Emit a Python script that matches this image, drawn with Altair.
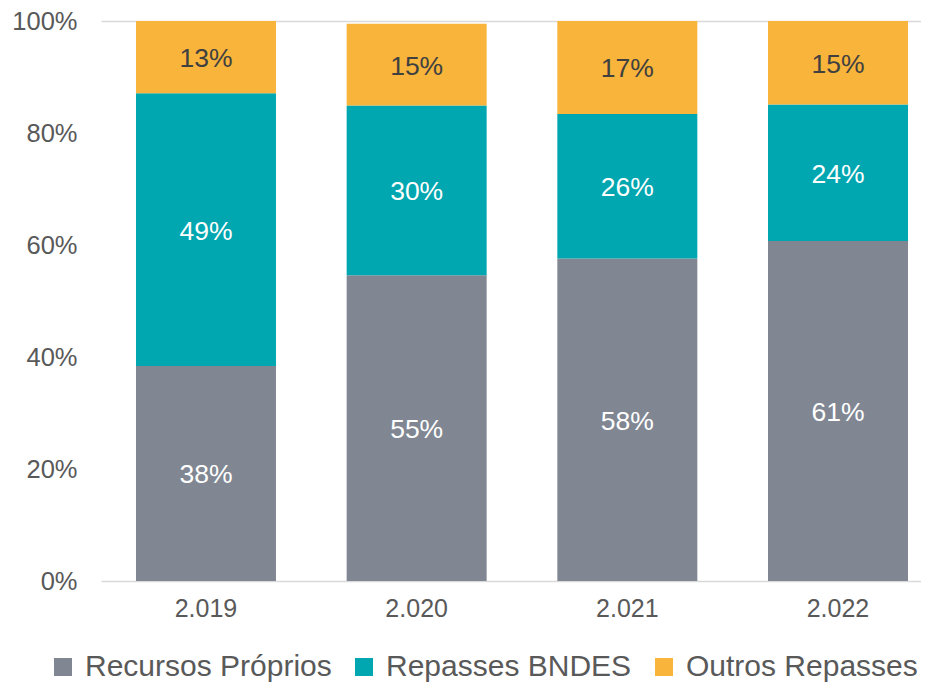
import altair as alt
import pandas as pd

years = ["2.019", "2.020", "2.021", "2.022"]
series = ["Recursos Próprios", "Repasses BNDES", "Outros Repasses"]
recursos = [38.4, 54.6, 57.6, 60.7]
bndes = [48.7, 30.3, 25.8, 24.4]
outros = [12.9, 14.6, 16.6, 14.9]
colors = ["#808793", "#00A6B0", "#F9B43C"]
y_ticks = [0, 20, 40, 60, 80, 100]

rows = []
for k, (s, vals) in enumerate(zip(series, [recursos, bndes, outros])):
    for yr, v in zip(years, vals):
        rows.append({"year": yr, "series": s, "value": v, "order": k})
df = pd.DataFrame(rows)

font = "Liberation Sans"
label_color = "#595959"

base = alt.Chart(df).transform_stack(
    stack="value",
    groupby=["year"],
    as_=["y0", "y1"],
    sort=[alt.SortField("order", order="ascending")],
).transform_calculate(
    mid="(datum.y0 + datum.y1) / 2",
    label="format(datum.value, '.0f') + '%'",
)

x_enc = alt.X(
    "year:N",
    sort=years,
    title=None,
    scale=alt.Scale(paddingInner=0.3355, paddingOuter=0.1139, align=0.729),
    axis=alt.Axis(
        labelFont=font,
        labelFontSize=25,
        labelColor=label_color,
        labelAngle=0,
        labelPadding=15,
        ticks=False,
        domain=False,
    ),
)

bars = base.mark_bar().encode(
    x=x_enc,
    y=alt.Y(
        "y0:Q",
        title=None,
        scale=alt.Scale(domain=[0, 100], nice=False),
        axis=alt.Axis(
            values=y_ticks,
            labelExpr="datum.value + '%'",
            labelFont=font,
            labelFontSize=25.5,
            labelColor=label_color,
            labelPadding=24,
            ticks=False,
            domain=False,
            grid=True,
            gridColor="#D9D9D9",
            gridWidth=1.5,
            gridOpacity={
                "condition": {"test": "datum.value == 0 || datum.value == 100", "value": 1},
                "value": 0,
            },
            minExtent=93,
            maxExtent=93,
        ),
    ),
    y2="y1:Q",
    color=alt.Color(
        "series:N",
        scale=alt.Scale(domain=series, range=colors),
        legend=alt.Legend(
            title=None,
            orient="none",
            legendX=-53,
            legendY=631,
            direction="horizontal",
            symbolType="square",
            symbolSize=324,
            symbolStrokeWidth=0,
            labelFont=font,
            labelFontSize=30,
            labelColor=label_color,
            labelLimit=400,
            labelOffset=7,
            columnPadding=17,
            padding=0,
        ),
    ),
)

text = base.mark_text(font=font, fontSize=26.5, dy=2).encode(
    x=alt.X("year:N", sort=years),
    y=alt.Y("mid:Q"),
    text=alt.Text("label:N"),
    color=alt.condition(
        alt.datum.series == "Outros Repasses", alt.value("#404040"), alt.value("#FFFFFF")
    ),
)

chart = (
    alt.layer(bars, text)
    .properties(width=820, height=560, padding={"left": 0, "top": 1, "right": 0, "bottom": 0})
    .configure_view(stroke=None)
)

chart.save("out.html", embed_options={"renderer": "svg", "actions": False})
